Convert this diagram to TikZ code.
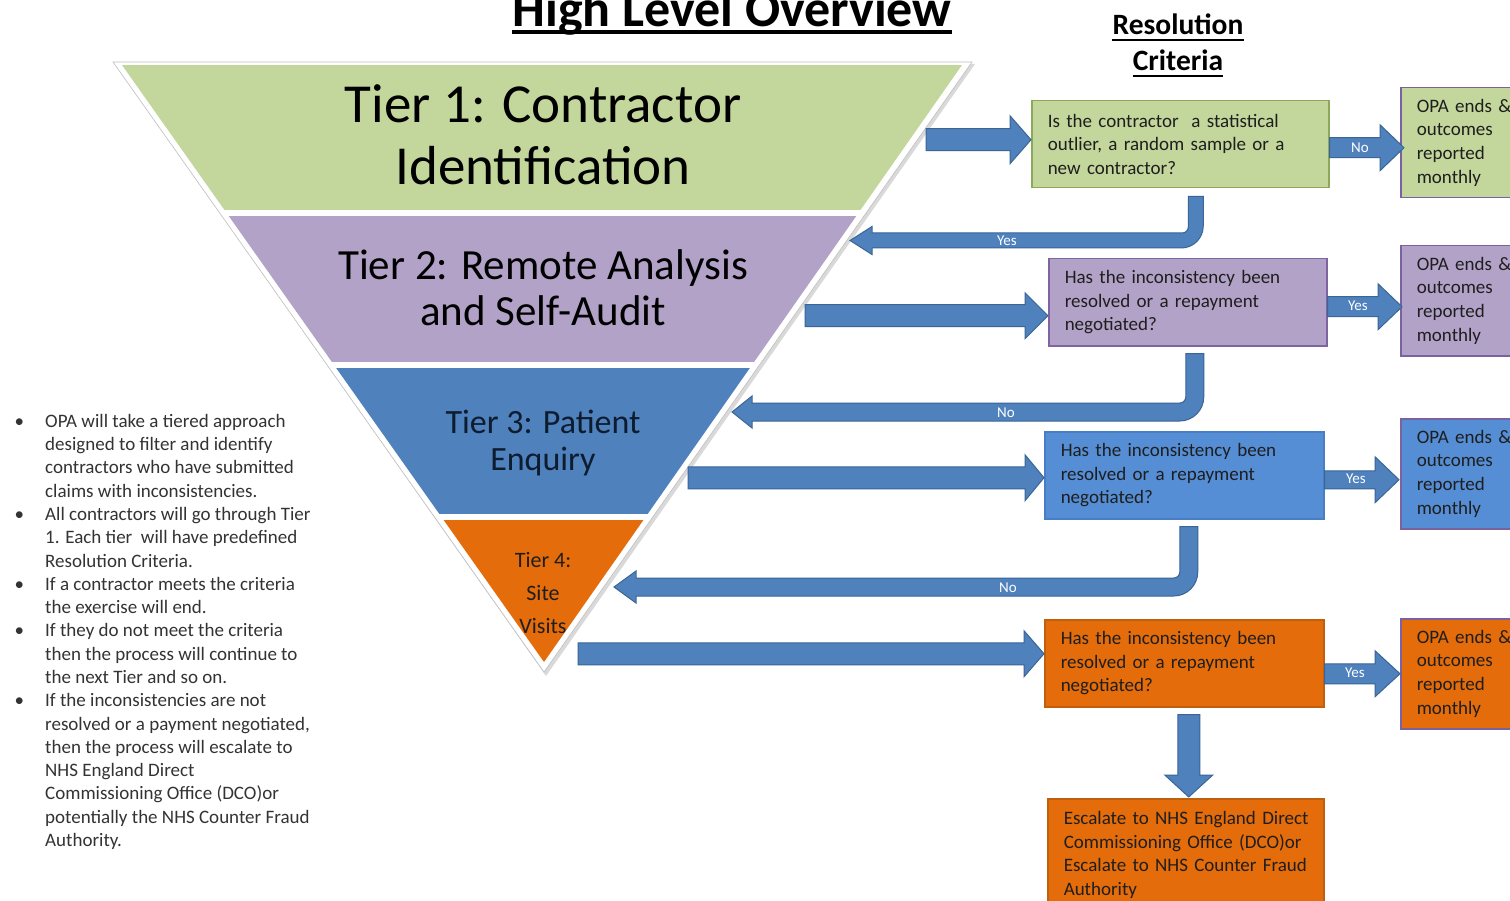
\documentclass[tikz,border=0pt]{standalone}
\usepackage{fontspec}
\setmainfont{Carlito}
\usetikzlibrary{calc}
\definecolor{tgreen}{HTML}{C3D69B}
\definecolor{tpurple}{HTML}{B3A2C7}
\definecolor{tblue}{HTML}{4F81BD}
\definecolor{torange}{HTML}{E46C0A}
\definecolor{bblue}{HTML}{558ED5}
\definecolor{afill}{HTML}{4F81BD}
\definecolor{aline}{HTML}{3B6594}
\definecolor{gline}{HTML}{8CA85A}
\definecolor{pline}{HTML}{8064A2}
\definecolor{bline}{HTML}{4A7EC4}
\definecolor{oline}{HTML}{C05F0E}
\definecolor{txt}{HTML}{1E1E1E}
\definecolor{notetxt}{HTML}{333333}
\definecolor{opaline}{HTML}{7A62A0}
\definecolor{navy}{HTML}{0E1C30}

% straight right-pointing block arrow: start, tip, half shaft, half head, head length
\newcommand\arrR[5]{\path[blockarrow] let \p1=(#1), \p2=(#2) in
  (\x1,\y2+#3) -- (\x2-#5,\y2+#3) -- (\x2-#5,\y2+#4) -- (\x2,\y2) --
  (\x2-#5,\y2-#4) -- (\x2-#5,\y2-#3) -- (\x1,\y2-#3) -- cycle;}
% downward block arrow
\newcommand\arrD[5]{\path[blockarrow] let \p1=(#1), \p2=(#2) in
  (\x2-#3,\y1) -- (\x2-#3,\y2+#5) -- (\x2-#4,\y2+#5) -- (\x2,\y2) --
  (\x2+#4,\y2+#5) -- (\x2+#3,\y2+#5) -- (\x2+#3,\y1) -- cycle;}
% bent block arrow: down then left. start, tip, half shaft, half head, head length, outer radius, inner radius
\newcommand\arrB[7]{\path[blockarrow] let \p1=(#1), \p2=(#2) in
  (\x1-#3,\y1) -- (\x1-#3,\y2+#3+#7) arc[start angle=0,end angle=-90,radius=#7] --
  (\x2+#5,\y2+#3) -- (\x2+#5,\y2+#4) -- (\x2,\y2) -- (\x2+#5,\y2-#4) -- (\x2+#5,\y2-#3) --
  (\x1+#3-#6,\y2-#3) arc[start angle=-90,end angle=0,radius=#6] -- (\x1+#3,\y1) -- cycle;}

\begin{document}
\begin{tikzpicture}[x=1pt,y=-1pt,
  blockarrow/.style={fill=afill,draw=aline,line width=1pt,line join=miter},
  qbox/.style={anchor=north west,draw,line width=1.5pt,align=left,inner xsep=16pt,inner ysep=0pt,
    font=\fontsize{19}{23.5}\selectfont,text=txt},
  opabox/.style={anchor=north west,draw=opaline,line width=1.5pt,align=left,inner xsep=16pt,inner ysep=0pt,
    minimum width=142pt,text width=110pt,font=\fontsize{19}{23.7}\selectfont,text=txt},
  albl/.style={text=white,font=\fontsize{15}{15}\selectfont,inner sep=0pt},
  tier/.style={align=center,inner sep=0pt},
  heading/.style={font=\bfseries,anchor=base,inner sep=0pt}
]
\useasboundingbox (0,0) rectangle (1510,901);
\fill[white] (0,0) rectangle (1510,901);

% ---- funnel ----
\fill[black!15] (115,64) -- (975,64) -- (546,676) -- cycle;
\filldraw[fill=white,draw=black!25,line width=0.6pt] (113,62) -- (972,62) -- (544,672) -- cycle;
\begin{scope}
  \clip (122,65) -- (962,65) -- (544,662) -- cycle;
  \fill[tgreen]  (100,65)  rectangle (1000,210);
  \fill[tpurple] (100,216) rectangle (1000,362);
  \fill[tblue]   (100,368) rectangle (1000,514);
  \fill[torange] (100,520) rectangle (1000,680);
\end{scope}

\node[tier,font=\fontsize{55}{62}\selectfont] (t1) at (543,135) {Tier 1: Contractor\\Identification};
\node[tier,font=\fontsize{43}{46}\selectfont] (t2) at (543,288) {Tier 2: Remote Analysis\\and Self-Audit};
\node[tier,text=navy,font=\fontsize{34}{37}\selectfont] (t3) at (543,443) {Tier 3: Patient\\Enquiry};
\node[tier,text=txt,font=\fontsize{22}{33}\selectfont] (t4) at (543,593) {Tier 4:\\Site\\Visits};

% ---- headings ----
\node[heading,font=\bfseries\fontsize{52}{52}\selectfont] (title) at (732,27) {High Level Overview};
\draw[line width=4.5pt] ([yshift=-5pt]title.base west) -- ([yshift=-5pt]title.base east);
\node[heading,font=\bfseries\fontsize{29.5}{29.5}\selectfont] (res1) at (1178,35) {Resolution};
\draw[line width=2.4pt] ([yshift=-5pt]res1.base west) -- ([yshift=-5pt]res1.base east);
\node[heading,font=\bfseries\fontsize{29.5}{29.5}\selectfont] (res2) at (1178,71) {Criteria};
\draw[line width=2.4pt] ([yshift=-5pt]res2.base west) -- ([yshift=-5pt]res2.base east);

% ---- question boxes ----
\node[qbox,fill=tgreen,draw=gline,minimum width=297pt,text width=265pt,minimum height=87pt] (b1) at (1031,100)
  {Is the contractor~ a statistical\\outlier, a random sample or a\\new contractor?};
\node[qbox,fill=tpurple,draw=pline,minimum width=278pt,text width=246pt,minimum height=87pt] (b2) at (1048,258)
  {Has the inconsistency been\\resolved or a repayment\\negotiated?};
\node[qbox,fill=bblue,draw=bline,minimum width=279pt,text width=247pt,minimum height=87pt] (b3) at (1044,431)
  {Has the inconsistency been\\resolved or a repayment\\negotiated?};
\node[qbox,fill=torange,draw=oline,minimum width=279pt,text width=247pt,minimum height=87pt] (b4) at (1044,619)
  {Has the inconsistency been\\resolved or a repayment\\negotiated?};
\node[qbox,fill=torange,draw=oline,minimum width=276pt,text width=244pt,minimum height=112pt] (b5) at (1047,798)
  {\mbox{Escalate to NHS England Direct}\\\mbox{Commissioning Office (DCO)or}\\\mbox{Escalate to NHS Counter Fraud}\\Authority};

% ---- outcome boxes ----
\node[opabox,fill=tgreen,minimum height=110pt] (o1) at (1400,87) {OPA ends \&\\outcomes\\reported\\monthly};
\node[opabox,fill=tpurple,minimum height=110pt] (o2) at (1400,245) {OPA ends \&\\outcomes\\reported\\monthly};
\node[opabox,fill=bblue,minimum height=110pt] (o3) at (1400,418) {OPA ends \&\\outcomes\\reported\\monthly};
\node[opabox,fill=torange,minimum height=110pt] (o4) at (1400,618) {OPA ends \&\\outcomes\\reported\\monthly};

% ---- arrow anchors on the funnel ----
\coordinate (s1) at (926,139);
\coordinate (s4) at (805,315);
\coordinate (s7) at (688,477);
\coordinate (s10) at (578,653);
\coordinate (k1) at (850,240.5);
\coordinate (k2) at (732,412);
\coordinate (k3) at (614,587);

% ---- arrows ----
\arrR{s1}{$(b1.west)+(0,-4.5)$}{11pt}{24pt}{21pt}
\arrR{b1.east}{$(o1.west)+(4,5)$}{10pt}{23pt}{24pt}
\arrB{$(b1.south)+(15.5,8)$}{k1}{7.5pt}{14pt}{22pt}{22pt}{6pt}
\arrR{s4}{$(b2.west)+(0,13.5)$}{11pt}{23pt}{23pt}
\arrR{b2.east}{$(o2.west)+(2,6)$}{10pt}{23pt}{24pt}
\arrB{$(b2.south)+(7,7)$}{k2}{9pt}{16pt}{20pt}{24pt}{6pt}
\arrR{s7}{$(b3.west)+(0,2.5)$}{11pt}{23pt}{19pt}
\arrR{b3.east}{$(o3.west)+(-1,6)$}{9pt}{23pt}{24pt}
\arrB{$(b3.south)+(4.5,7)$}{k3}{9pt}{16pt}{22pt}{24pt}{6pt}
\arrR{s10}{$(b4.west)+(0,-9.5)$}{11pt}{23pt}{20pt}
\arrR{b4.east}{$(o4.west)+(0,0)$}{10pt}{23pt}{25pt}
\arrD{$(b4.south)+(4.5,7)$}{$(b5.north)+(3,-1)$}{11pt}{24pt}{22pt}

% ---- arrow labels ----
\node[albl] (l1) at (1360,148) {No};
\node[albl] (l2) at (1007,241) {Yes};
\node[albl] (l3) at (1358,306) {Yes};
\node[albl] (l4) at (1006,413) {No};
\node[albl] (l5) at (1356,479) {Yes};
\node[albl] (l6) at (1008,588) {No};
\node[albl] (l7) at (1355,673) {Yes};

% ---- notes ----
\node[anchor=north west,inner sep=0pt,align=left,text=notetxt,font=\fontsize{19}{23.28}\selectfont] (notes) at (45,414)
{\llap{•\hspace{21pt}}OPA will take a tiered approach\\
designed to filter and identify\\
contractors who have submitted\\
claims with inconsistencies.\\
\llap{•\hspace{21pt}}All contractors will go through Tier\\
1. Each tier~ will have predefined\\
Resolution Criteria.\\
\llap{•\hspace{21pt}}If a contractor meets the criteria\\
the exercise will end.\\
\llap{•\hspace{21pt}}If they do not meet the criteria\\
then the process will continue to\\
the next Tier and so on.\\
\llap{•\hspace{21pt}}If the inconsistencies are not\\
resolved or a payment negotiated,\\
then the process will escalate to\\
NHS England Direct\\
Commissioning Office (DCO)or\\
potentially the NHS Counter Fraud\\
Authority.};
\end{tikzpicture}
\end{document}
